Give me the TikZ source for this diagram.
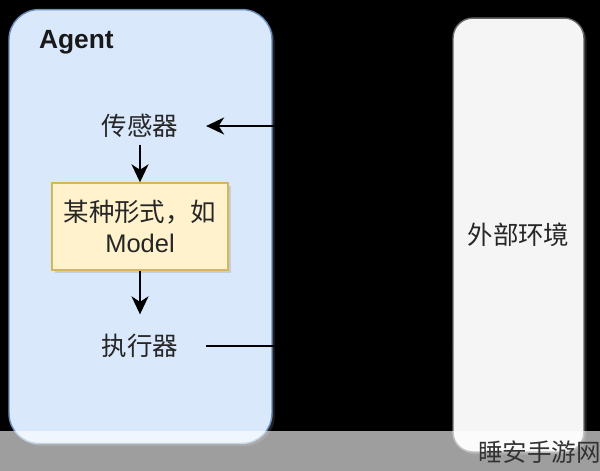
\documentclass[tikz,border=0pt]{standalone}
\usepackage{fontspec}
\setmainfont{Liberation Sans}
\newfontfamily\cjk{Noto Sans CJK SC}
\usetikzlibrary{arrows.meta,shadows}

\definecolor{agentfill}{HTML}{DAE8FC}
\definecolor{agentline}{HTML}{6C8EBF}
\definecolor{modelfill}{HTML}{FFF2CC}
\definecolor{modelline}{HTML}{D6B656}
\definecolor{envfill}{HTML}{F5F5F5}
\definecolor{envline}{HTML}{666666}

\tikzset{
  box/.style={draw, line width=0.8pt,
    drop shadow={shadow xshift=1.5pt, shadow yshift=-1.5pt, opacity=0.25}},
  txt/.style={font=\fontsize{14.5}{18}\selectfont\cjk, text=black!85},
}

\begin{document}
\begin{tikzpicture}[x=0.02cm, y=-0.02cm, line width=1.2pt,
    >={Stealth[length=0.36cm, width=0.34cm, inset=0.11cm]}]
	\useasboundingbox (0,0) rectangle (600,471);
	\fill[black] (0,0) rectangle (600,471);

	\node[box, fill=agentfill, draw=agentline, rounded corners=0.6cm,
	      minimum width=5.26cm, minimum height=8.68cm] (AG) at (140.5,226.5) {};
	\node[box, txt, fill=envfill, draw=envline, rounded corners=0.4cm,
	      minimum width=2.62cm, minimum height=8.68cm] (ENV) at (518.5,235) {外部环境};
	\node[font=\fontsize{15}{18}\selectfont\bfseries, text=black!90,
	      anchor=west, inner sep=0pt] (AGL) at (38,42) {Agent};

	\node[txt] (SEN) at (140,126) {传感器};
	\node[box, txt, fill=modelfill, draw=modelline, align=center,
	      minimum width=3.52cm, minimum height=1.74cm] (MOD) at (140,226.5)
	      {某种形式，如\\{\rmfamily Model}};
	\node[txt] (ACT) at (140,346) {执行器};

	\draw[->, shorten >=0.42cm] (ENV.west |- SEN) -- (SEN);
	\draw[->] (SEN) -- (MOD);
	\draw[->, shorten >=0.26cm] (MOD) -- (ACT);
	\draw[->, shorten <=0.42cm] (ACT) -- (ENV.west |- ACT);

	\fill[white, opacity=0.62] (0,431) rectangle (600,471);
	\node[font=\fontsize{14}{16}\selectfont\cjk, text=black!80,
	      anchor=west, inner sep=0pt] (WM) at (477,452) {睡安手游网};
\end{tikzpicture}
\end{document}
